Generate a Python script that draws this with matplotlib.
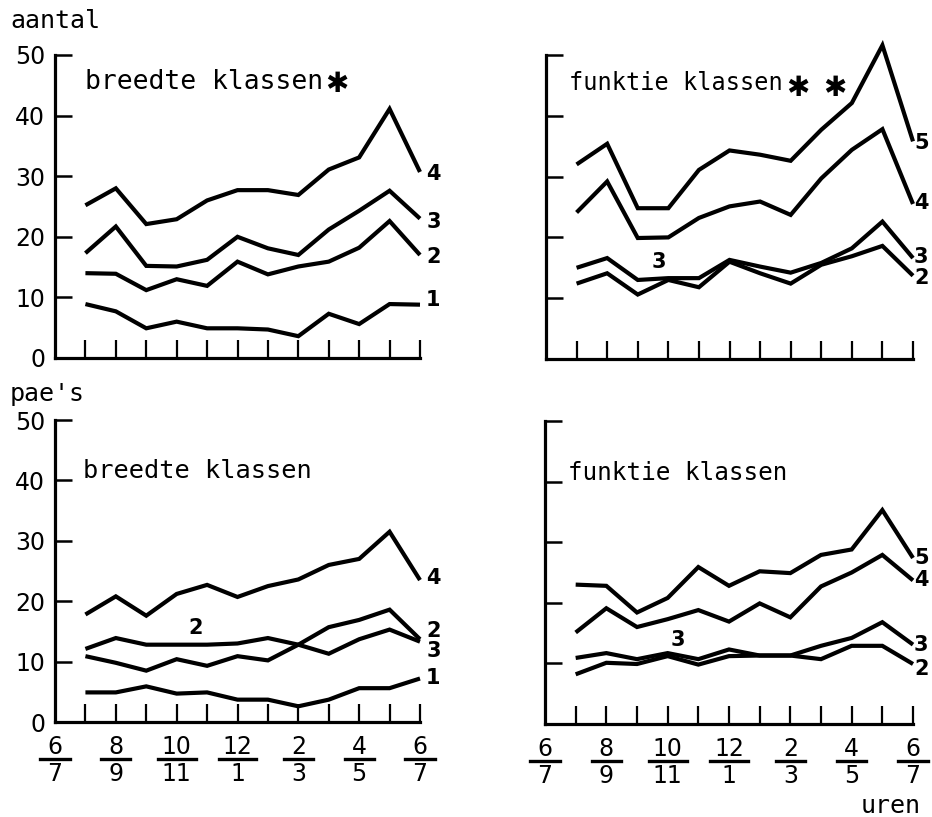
import matplotlib
matplotlib.use("Agg")
import matplotlib.pyplot as plt
from matplotlib.transforms import blended_transform_factory

# hourly slots 7/8 ... 6/7 (tick positions 1..12)
hours = list(range(1, 13))

# aantal, breedte klassen
ab_1 = [8.9, 7.7, 4.9, 6.0, 4.9, 4.9, 4.7, 3.6, 7.3, 5.6, 8.9, 8.8]
ab_2 = [14.0, 13.9, 11.2, 13.0, 11.9, 15.9, 13.8, 15.1, 15.9, 18.2, 22.6, 17.0]
ab_3 = [17.3, 21.7, 15.2, 15.1, 16.2, 20.0, 18.1, 17.0, 21.2, 24.3, 27.6, 23.0]
ab_4 = [25.2, 28.0, 22.1, 22.9, 26.0, 27.7, 27.7, 26.9, 31.1, 33.1, 41.1, 30.7]

# aantal, funktie klassen
af_2 = [12.4, 14.1, 10.6, 13.0, 11.8, 16.0, 14.1, 12.4, 15.5, 16.9, 18.6, 13.7]
af_3 = [15.0, 16.6, 13.0, 13.3, 13.3, 16.3, 15.2, 14.2, 15.8, 18.2, 22.6, 16.6]
af_4 = [24.1, 29.2, 19.9, 20.0, 23.2, 25.1, 25.9, 23.7, 29.7, 34.4, 37.8, 25.5]
af_5 = [32.0, 35.4, 24.8, 24.8, 31.1, 34.3, 33.6, 32.6, 37.7, 42.1, 51.6, 35.8]

# pae's, breedte klassen
pb_1 = [4.9, 4.9, 5.9, 4.7, 4.9, 3.7, 3.7, 2.6, 3.7, 5.6, 5.6, 7.2]
pb_2 = [12.1, 13.9, 12.8, 12.8, 12.8, 13.0, 13.9, 12.8, 11.3, 13.7, 15.3, 13.3]
pb_3 = [10.9, 9.8, 8.5, 10.4, 9.3, 10.9, 10.2, 12.8, 15.7, 16.9, 18.6, 13.7]
pb_4 = [17.8, 20.8, 17.6, 21.2, 22.7, 20.7, 22.5, 23.6, 26.0, 27.0, 31.5, 23.5]

# pae's, funktie klassen
pf_2 = [8.2, 10.1, 9.9, 11.2, 9.8, 11.2, 11.3, 11.3, 10.7, 12.9, 12.9, 9.9]
pf_3 = [10.9, 11.7, 10.7, 11.7, 10.7, 12.3, 11.3, 11.3, 12.9, 14.2, 16.8, 13.1]
pf_4 = [15.1, 19.1, 16.0, 17.3, 18.8, 16.9, 19.9, 17.6, 22.7, 25.0, 27.9, 23.7]
pf_5 = [23.0, 22.8, 18.4, 20.8, 25.9, 22.8, 25.2, 24.9, 27.9, 28.8, 35.3, 27.4]

y_ticks = [0, 10, 20, 30, 40, 50]
x_label_pos = [0, 2, 4, 6, 8, 10, 12]
x_label_num = ["6", "8", "10", "12", "2", "4", "6"]
x_label_den = ["7", "9", "11", "1", "3", "5", "7"]

W, H = 932, 817
fig = plt.figure(figsize=(W / 100, H / 100), dpi=100)
fig.patch.set_facecolor("white")
FONT = "DejaVu Sans"
LETTER = "DejaVu Sans Mono"


def panel(box):
    x0, y0, x1, y1 = box
    ax = fig.add_axes([x0 / W, 1 - y1 / H, (x1 - x0) / W, (y1 - y0) / H])
    ax.set_xlim(0, 12)
    ax.set_ylim(0, 50)
    for s in ("top", "right"):
        ax.spines[s].set_visible(False)
    for s in ("left", "bottom"):
        ax.spines[s].set_linewidth(2.3)
        ax.spines[s].set_capstyle("projecting")
    ax.set_xticks(hours)
    ax.set_xticklabels([])
    ax.set_yticks(y_ticks)
    ax.tick_params(axis="x", direction="in", length=13, width=1.6, color="black")
    ax.tick_params(axis="y", direction="in", length=12, width=1.8, color="black",
                   pad=7, labelsize=17)
    ax.patch.set_alpha(0)
    return ax


def draw_series(ax, series):
    for vals in series:
        ax.plot(hours, vals, color="black", lw=3.0, clip_on=False,
                solid_joinstyle="miter", solid_capstyle="butt")


def tag(ax, x, y, s, size=15):
    ax.text(x, y, s, fontsize=size, fontweight="bold", family=FONT,
            ha="left", va="center", clip_on=False)


def title(ax, x, y, s, size):
    ax.text(x, y, s, fontsize=size, family=LETTER, va="center", ha="left")


def star(ax, x, y):
    ax.text(x, y, "\u2731", fontsize=20, family=FONT, va="center", ha="center")


def fractions(ax):
    tr = blended_transform_factory(ax.transData, ax.transAxes)
    h = ax.get_position().height * H
    for pos, num, den in zip(x_label_pos, x_label_num, x_label_den):
        ax.text(pos, -25 / h, num, transform=tr, ha="center", va="center",
                fontsize=17, family=FONT)
        ax.text(pos, -52 / h, den, transform=tr, ha="center", va="center",
                fontsize=17, family=FONT)
        half = 0.48 if max(len(num), len(den)) == 1 else 0.62
        ax.plot([pos - half, pos + half], [-37 / h, -37 / h], transform=tr,
                color="black", lw=2.4, clip_on=False)


# top left: aantal / breedte klassen
ax1 = panel((55, 55, 420, 358))
draw_series(ax1, [ab_1, ab_2, ab_3, ab_4])
ax1.set_yticklabels([str(v) for v in y_ticks], family=FONT)
title(ax1, 0.98, 45.5, "breedte klassen", 19)
star(ax1, 9.28, 45.2)
tag(ax1, 12.2, 30.4, "4")
tag(ax1, 12.2, 22.4, "3")
tag(ax1, 12.2, 16.6, "2")
tag(ax1, 12.2, 9.6, "1")

# top right: aantal / funktie klassen
ax2 = panel((546, 55, 913, 359))
draw_series(ax2, [af_2, af_3, af_4, af_5])
ax2.set_yticklabels([])
title(ax2, 0.76, 45.4, "funktie klassen", 17)
star(ax2, 8.24, 44.6)
star(ax2, 9.44, 44.6)
tag(ax2, 3.45, 15.9, "3")
tag(ax2, 12.03, 35.5, "5")
tag(ax2, 12.03, 25.7, "4")
tag(ax2, 12.03, 16.8, "3")
tag(ax2, 12.03, 13.3, "2")

# bottom left: pae's / breedte klassen
ax3 = panel((55, 420, 420, 722))
draw_series(ax3, [pb_1, pb_2, pb_3, pb_4])
ax3.set_yticklabels([str(v) for v in y_ticks], family=FONT)
title(ax3, 0.93, 41.6, "breedte klassen", 18.3)
tag(ax3, 4.4, 15.6, "2")
tag(ax3, 12.2, 23.8, "4")
tag(ax3, 12.2, 15.0, "2")
tag(ax3, 12.2, 11.7, "3")
tag(ax3, 12.2, 7.3, "1")
fractions(ax3)

# bottom right: pae's / funktie klassen
ax4 = panel((545, 421, 913, 724))
draw_series(ax4, [pf_2, pf_3, pf_4, pf_5])
ax4.set_yticklabels([])
title(ax4, 0.75, 41.4, "funktie klassen", 17.5)
tag(ax4, 4.1, 13.9, "3")
tag(ax4, 12.03, 27.4, "5")
tag(ax4, 12.03, 23.7, "4")
tag(ax4, 12.03, 13.1, "3")
tag(ax4, 12.03, 9.1, "2")
fractions(ax4)

fig.text(10 / W, 1 - 21 / H, "aantal", fontsize=18, family=LETTER, va="center", ha="left")
fig.text(10 / W, 1 - 394 / H, "pae's", fontsize=18, family=LETTER, va="center", ha="left")
fig.text(921 / W, 1 - 806 / H, "uren", fontsize=18, family=LETTER, va="center", ha="right")

fig.savefig("out.png", dpi=100, facecolor="white")
